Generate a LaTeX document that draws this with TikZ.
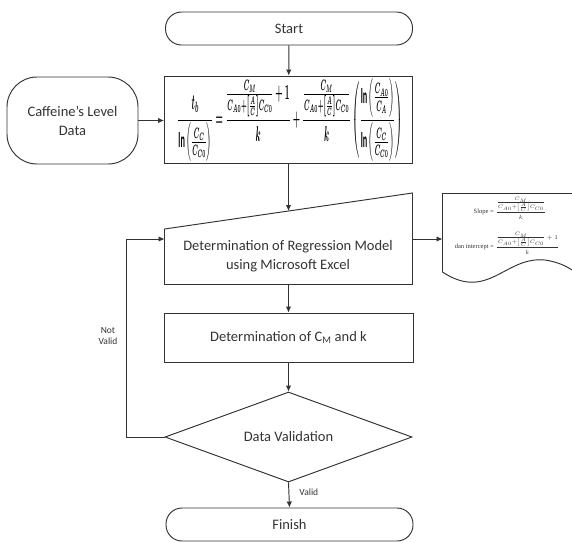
\documentclass[tikz,border=0pt]{standalone}
\usepackage{fontspec}
\usepackage{amsmath}
\usepackage{bm}
\usepackage{graphicx}
\setmainfont{Carlito}
\newfontfamily\timesf{Liberation Serif}
\usetikzlibrary{shapes.geometric,arrows.meta}
\begin{document}
\begin{tikzpicture}[x=1pt,y=-1pt, line width=0.95pt, color=black!80,
  arr/.style={-{Latex[length=6pt,width=5.5pt]}},
  box/.style={draw, rectangle, inner sep=0pt, align=center, font=\fontsize{14.5}{17}\selectfont},
  term/.style={draw, rectangle, rounded corners=16pt, inner sep=0pt, minimum width=247pt, minimum height=33pt, font=\fontsize{14.5}{17}\selectfont},
  lbl/.style={font=\fontsize{9.5}{11}\selectfont, align=center, inner sep=0pt},
  doctext/.style={font=\timesf\fontsize{6.5}{7}\selectfont, inner sep=0pt}
]
\useasboundingbox (0,0) rectangle (572,542);
\node[term] (start) at (289,28.5) {Start};
\node[box, minimum width=248pt, minimum height=87pt] (formula) at (288.5,119.5) {};
\node[inner sep=0pt, text=black] (eq) at (290,120) {\resizebox{225pt}{47pt}{\boldmath$\displaystyle
\frac{t_b}{\ln\left(\frac{C_C}{C_{C0}}\right)}=\frac{\frac{C_M}{C_{A0}+\left[\frac{A}{C}\right]C_{C0}}+1}{k}+\frac{\frac{C_M}{C_{A0}+\left[\frac{A}{C}\right]C_{C0}}}{k}\left(\frac{\ln\left(\frac{C_{A0}}{C_A}\right)}{\ln\left(\frac{C_C}{C_{C0}}\right)}\right)$}};
\node[draw, rectangle, rounded corners=30pt, minimum width=131pt, minimum height=87pt, align=center, inner sep=0pt, font=\fontsize{14.5}{19}\selectfont] (caf) at (72.5,120.5) {Caffeine’s Level\\Data};
% manual input
\draw (164.5,229) coordinate (mtl) -- (412.5,193) coordinate (mtr) -- (412.5,284.5) coordinate (mbr) -- (164.5,284.5) coordinate (mbl) -- cycle;
\coordinate (mtop) at (288.5,211);
\coordinate (mleft) at (164.5,239);
\coordinate (mright) at (412.5,239);
\coordinate (mbot) at (288.5,284.5);
\node[align=center, font=\fontsize{14.5}{19}\selectfont, inner sep=0pt] (reg) at (288,256) {Determination of Regression Model\\using Microsoft Excel};
% document
\draw (572,193.5) -- (442.5,193.5) coordinate (dtl) -- (442.5,272) .. controls (488,302) and (505,256) .. (545,260) .. controls (558,262) and (566,266) .. (572,270);
\coordinate (dleft) at (442.5,239);
\node[doctext] (slope) at (510,208) {Slope = $\dfrac{\frac{C_M}{C_{A0}+\left[\frac{A}{C}\right]C_{C0}}}{k}$};
\node[doctext] (icpt) at (507,243) {dan intercept = $\dfrac{\frac{C_M}{C_{A0}+\left[\frac{A}{C}\right]C_{C0}}+1}{k}$};
\node[box, minimum width=249pt, minimum height=49pt] (cmk) at (288.5,337.5) {Determination of C\textsubscript{M} and k};
\node[draw, diamond, inner sep=0pt, minimum width=247pt, minimum height=90pt, aspect=2.7, font=\fontsize{14.5}{17}\selectfont] (dv) at (288.5,437) {Data Validation};
\node[term] (finish) at (289.5,524.5) {Finish};
\coordinate (bend) at (126.5,437);
\coordinate (bendup) at (126.5,239);
% connectors
\draw[arr] (start) -- (formula);
\draw[arr] (caf.east) -- (caf.east -| formula.west);
\draw[arr] (formula.south) -- (mtop);
\draw[arr] (mright) -- (dleft);
\draw[arr] (mbot) -- (cmk.north);
\draw[arr] (cmk.south) -- (dv.north);
\draw[arr] (dv.south) -- (finish.north);
\draw[arr] (dv.west) -- (bend) -- (bendup) -- (mleft);
\node[lbl] (nv) at (108,336) {Not\\Valid};
\node[lbl, anchor=west] (v) at (299,492) {Valid};
\end{tikzpicture}
\end{document}
